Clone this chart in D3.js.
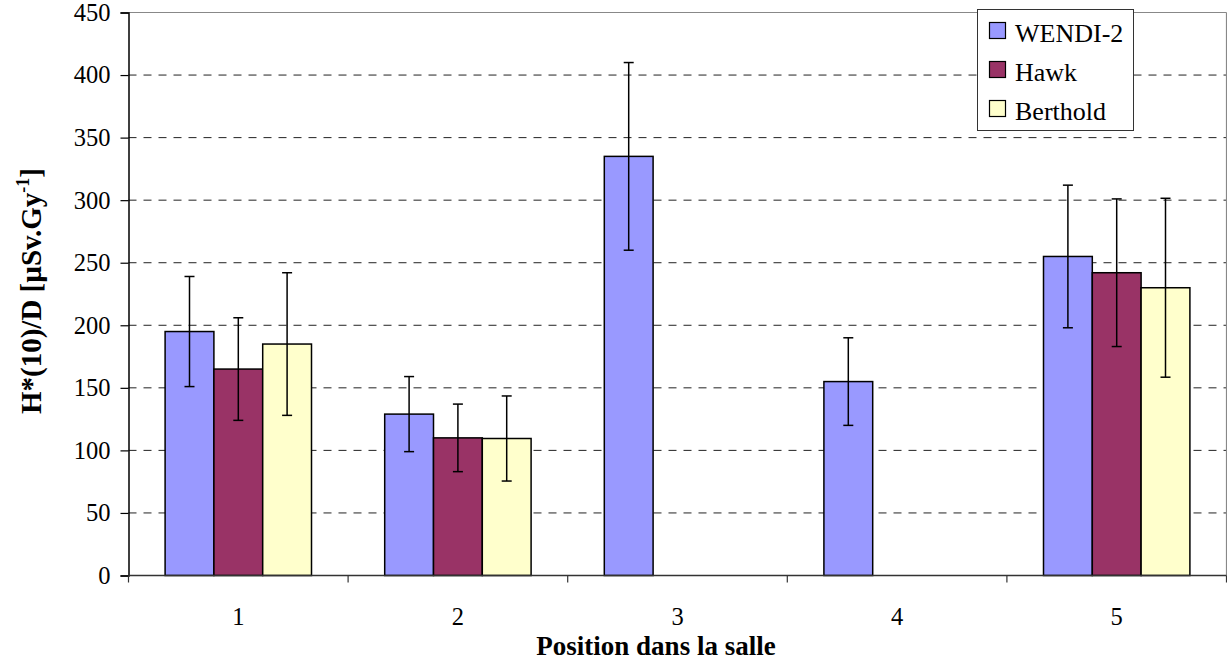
<!DOCTYPE html>
<html>
<head>
<meta charset="utf-8">
<script src="https://cdn.jsdelivr.net/npm/d3@7"></script>
<style>
  html, body { margin: 0; padding: 0; background: #fff; }
  svg { display: block; }
</style>
</head>
<body>
<svg id="chart" width="1227" height="661"></svg>
<script>
const categories = ["1", "2", "3", "4", "5"];
const seriesNames = ["WENDI-2", "Hawk", "Berthold"];
const wendi = [195, 129, 335, 155, 255];
const wendiErr = [44, 30, 75, 35, 57];
const hawk = [165, 110, null, null, 242];
const hawkErr = [41, 27, null, null, 59];
const berthold = [185, 109.5, null, null, 230];
const bertholdErr = [57, 34, null, null, 71.5];
const yTicks = [0, 50, 100, 150, 200, 250, 300, 350, 400, 450];
const seriesColors = ["#9999FF", "#993366", "#FFFFCC"];

const seriesValues = [wendi, hawk, berthold];
const seriesErrors = [wendiErr, hawkErr, bertholdErr];

(function () {
const svg = d3.select("#chart");
const FONT = "'Liberation Serif', 'Times New Roman', serif";

const pLeft = 128.5, pRight = 1226.5, pTop = 12.5, pBottom = 575.5;

const x = d3.scaleBand().domain(categories).range([pLeft, pRight]).paddingInner(0).paddingOuter(0);
const xs = d3.scaleBand().domain(seriesNames).range([0, x.bandwidth()]).paddingInner(0).paddingOuter(0.75);
const y = d3.scaleLinear().domain([0, 450]).range([pBottom, pTop]);

// grid lines
svg.append("g").selectAll("line")
  .data(yTicks.filter(t => t > 0 && t < 450))
  .join("line")
  .attr("x1", pLeft).attr("x2", pRight)
  .attr("y1", d => y(d)).attr("y2", d => y(d))
  .attr("stroke", "#222").attr("stroke-width", 1)
  .attr("stroke-dasharray", "8,7");

// top and right border
svg.append("line").attr("x1", pLeft).attr("x2", pRight).attr("y1", y(450)).attr("y2", y(450))
  .attr("stroke", "#888").attr("stroke-width", 1.2);
svg.append("line").attr("x1", pRight).attr("x2", pRight).attr("y1", y(450)).attr("y2", pBottom)
  .attr("stroke", "#888").attr("stroke-width", 1.2);

// bars
const flat = [];
categories.forEach((c, i) => {
  seriesNames.forEach((s, j) => {
    const v = seriesValues[j][i];
    if (v !== null && v !== undefined) flat.push({ c, s, j, v, e: seriesErrors[j][i] });
  });
});

svg.append("g").selectAll("rect")
  .data(flat)
  .join("rect")
  .attr("x", d => x(d.c) + xs(d.s))
  .attr("y", d => y(d.v))
  .attr("width", xs.bandwidth())
  .attr("height", d => y(0) - y(d.v))
  .attr("fill", d => seriesColors[d.j])
  .attr("stroke", "#000").attr("stroke-width", 1.5);

// error bars
const eg = svg.append("g").attr("stroke", "#000").attr("stroke-width", 1.5);
flat.forEach(d => {
  const cx = x(d.c) + xs(d.s) + xs.bandwidth() / 2;
  eg.append("line").attr("x1", cx).attr("x2", cx).attr("y1", y(d.v + d.e)).attr("y2", y(d.v - d.e));
  eg.append("line").attr("x1", cx - 5).attr("x2", cx + 5).attr("y1", y(d.v + d.e)).attr("y2", y(d.v + d.e));
  eg.append("line").attr("x1", cx - 5).attr("x2", cx + 5).attr("y1", y(d.v - d.e)).attr("y2", y(d.v - d.e));
});

// y axis
const yAxis = svg.append("g").attr("transform", `translate(${pLeft},0)`)
  .call(d3.axisLeft(y).tickValues(yTicks).tickSize(8).tickPadding(10).tickFormat(d3.format("d")));
yAxis.select(".domain").attr("stroke", "#000").attr("stroke-width", 1.5);
yAxis.selectAll(".tick line").attr("stroke", "#000").attr("stroke-width", 1.2);
yAxis.selectAll(".tick text").attr("font-family", FONT).attr("font-size", 24.5).attr("fill", "#000");

// x axis
svg.append("line").attr("x1", pLeft).attr("x2", pRight).attr("y1", pBottom).attr("y2", pBottom)
  .attr("stroke", "#333").attr("stroke-width", 1.5);
const boundaries = categories.map(c => x(c)).concat([pRight]);
svg.append("g").selectAll("line").data(boundaries).join("line")
  .attr("x1", d => d).attr("x2", d => d).attr("y1", pBottom).attr("y2", pBottom + 7)
  .attr("stroke", "#333").attr("stroke-width", 1.2);
svg.append("g").selectAll("text").data(categories).join("text")
  .attr("x", d => x(d) + x.bandwidth() / 2)
  .attr("y", 625)
  .attr("text-anchor", "middle")
  .attr("font-family", FONT).attr("font-size", 24.5).attr("fill", "#000")
  .text(d => d);

// axis titles
svg.append("text")
  .attr("x", 656)
  .attr("y", 655)
  .attr("text-anchor", "middle")
  .attr("font-family", FONT).attr("font-size", 27).attr("font-weight", "bold")
  .text("Position dans la salle");

const yt = svg.append("text")
  .attr("transform", "translate(41,291) rotate(-90)")
  .attr("text-anchor", "middle")
  .attr("font-family", FONT).attr("font-size", 29).attr("font-weight", "bold");
yt.append("tspan").text("H*(10)/D [µSv.Gy");
yt.append("tspan").attr("font-size", 18).attr("dy", -12).text("-1");
yt.append("tspan").attr("dy", 12).text("]");

// legend
const lg = svg.append("g");
lg.append("rect").attr("x", 977.5).attr("y", 9.5).attr("width", 156).attr("height", 121)
  .attr("fill", "#fff").attr("stroke", "#333").attr("stroke-width", 1);
seriesNames.forEach((s, j) => {
  const yy = 22.5 + j * 39;
  lg.append("rect").attr("x", 989.5).attr("y", yy).attr("width", 16).attr("height", 16)
    .attr("fill", seriesColors[j]).attr("stroke", "#000").attr("stroke-width", 1.2);
  lg.append("text").attr("x", 1015).attr("y", yy + 19)
    .attr("font-family", FONT).attr("font-size", 26).attr("fill", "#000").text(s);
});
})();
</script>
</body>
</html>
